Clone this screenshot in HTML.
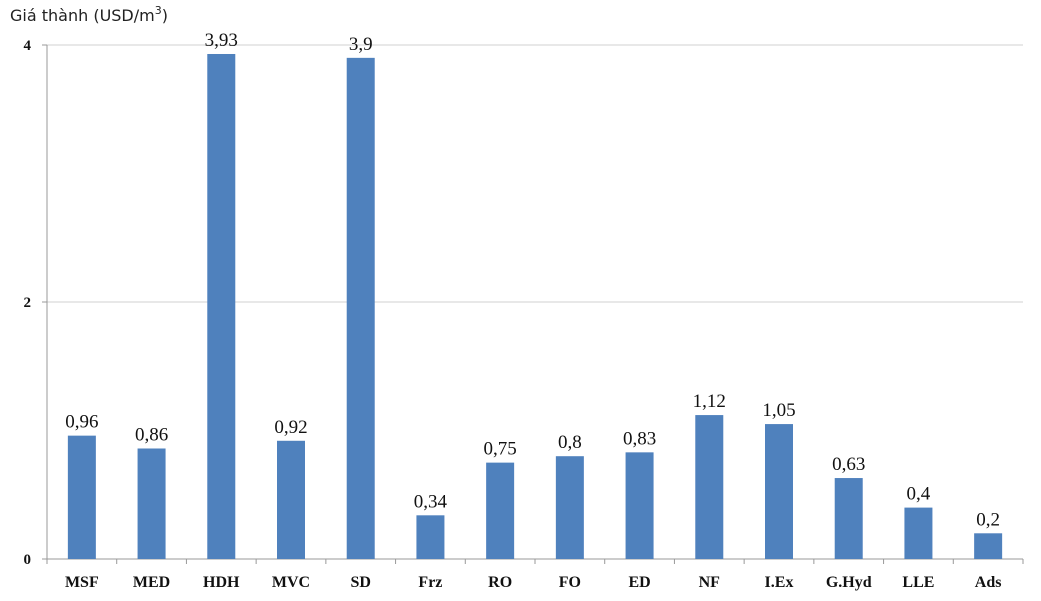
<!DOCTYPE html>
<html><head><meta charset="utf-8"><style>
body{margin:0;background:#fff;}
svg{display:block;}
</style></head><body>
<svg width="1041" height="601" xmlns="http://www.w3.org/2000/svg">
<text x="10" y="21" font-family="DejaVu Sans, sans-serif" font-size="16" fill="#222">Giá thành (USD/m<tspan dy="-7" font-size="11">3</tspan><tspan dy="7">)</tspan></text>
<g id="grid"></g><g id="bars"></g><g id="labels"></g>
</svg>
<script>
const categories=["MSF","MED","HDH","MVC","SD","Frz","RO","FO","ED","NF","I.Ex","G.Hyd","LLE","Ads"];
const values=[0.96,0.86,3.93,0.92,3.9,0.34,0.75,0.8,0.83,1.12,1.05,0.63,0.4,0.2];
const valueLabels=["0,96","0,86","3,93","0,92","3,9","0,34","0,75","0,8","0,83","1,12","1,05","0,63","0,4","0,2"];
const yTicks=[0,2,4];
const NS="http://www.w3.org/2000/svg";
const x0=47,x1=1023,yBase=559,yTop=45,yMax=4;
const band=(x1-x0)/categories.length;
const y=v=>yBase-(v/yMax)*(yBase-yTop);
const xc=i=>x0+band*(i+0.5);
const svg=document.querySelector('svg');
function mk(tag,attrs,parent){const e=document.createElementNS(NS,tag);for(const k in attrs)e.setAttribute(k,attrs[k]);(parent||svg).appendChild(e);return e;}
const grid=document.getElementById('grid'),bars=document.getElementById('bars'),labels=document.getElementById('labels');
yTicks.forEach(t=>{
  if(t>0){const g=mk('line',{x1:x0,x2:x1,y1:y(t),y2:y(t),stroke:'#d0d0d0','stroke-width':1},grid);
  
  }
  const tk=mk('line',{x1:x0-5,x2:x0,y1:y(t),y2:y(t),stroke:'#999'},grid);
  
  
  const tl=mk('text',{x:x0-16,y:y(t)+5,'text-anchor':'end','font-family':'Liberation Serif, serif','font-size':15,'font-weight':'bold',fill:'#111'},labels);
  tl.textContent=t;
  
  
});
const ya=mk('line',{x1:x0,x2:x0,y1:yTop,y2:yBase,stroke:'#999'},grid);


const xa=mk('line',{x1:x0,x2:x1,y1:yBase,y2:yBase,stroke:'#999'},grid);


for(let i=0;i<=categories.length;i++){
  const t=mk('line',{x1:x0+band*i,x2:x0+band*i,y1:yBase,y2:yBase+5,stroke:'#999'},grid);
  
  
}
categories.forEach((c,i)=>{
  const bw=28;
  const r=mk('rect',{x:xc(i)-bw/2,y:y(values[i]),width:bw,height:yBase-y(values[i]),fill:'#4f81bd'},bars);
  
  
  const vl=mk('text',{x:xc(i),y:y(values[i])-8,'text-anchor':'middle','font-family':'Liberation Serif, serif','font-size':19,fill:'#111'},labels);
  vl.textContent=valueLabels[i];
  
  
  const cl=mk('text',{x:xc(i),y:587,'text-anchor':'middle','font-family':'Liberation Serif, serif','font-size':16,'font-weight':'bold',fill:'#111'},labels);
  cl.textContent=c;
  
  
});
</script>
</body></html>
